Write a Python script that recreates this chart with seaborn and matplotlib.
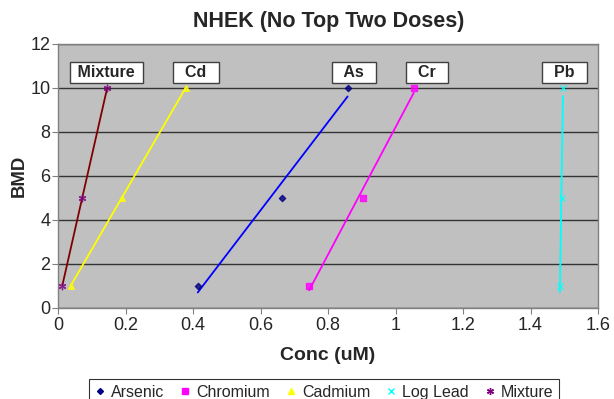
import matplotlib
matplotlib.use("Agg")
import matplotlib.pyplot as plt
import seaborn as sns
import pandas as pd
from matplotlib.lines import Line2D

# ---- data ----
bmd = [1, 5, 10]
conc_arsenic = [0.414, 0.663, 0.858]
conc_chromium = [0.744, 0.904, 1.054]
conc_cadmium = [0.0375, 0.189, 0.378]
conc_lead = [1.487, 1.492, 1.496]
conc_mixture = [0.013, 0.071, 0.146]

series_names = ["Arsenic", "Chromium", "Cadmium", "Log Lead", "Mixture"]
box_labels = ["As", "Cr", "Cd", "Pb", "Mixture"]
box_x = [0.877, 1.094, 0.409, 1.5, 0.143]

x_ticks = [0, 0.2, 0.4, 0.6, 0.8, 1, 1.2, 1.4, 1.6]
x_tick_labels = ["0", "0.2", "0.4", "0.6", "0.8", "1", "1.2", "1.4", "1.6"]
y_ticks = [0, 2, 4, 6, 8, 10, 12]

concs = [conc_arsenic, conc_chromium, conc_cadmium, conc_lead, conc_mixture]
rows = []
for name, c in zip(series_names, concs):
    for xv, yv in zip(c, bmd):
        rows.append({"series": name, "conc": xv, "bmd": yv})
df = pd.DataFrame(rows)

# ---- styles ----
marker_colors = ["#000080", "#ff00ff", "#ffff00", "#00ffff", "#800080"]
line_colors = ["#0000ff", "#ff00ff", "#ffff00", "#00ffff", "#800000"]
markers = ["D", "s", "^", "x", (6, 2, 0)]
msizes = [10, 14, 16, 18, 22]

sns.set_style("white")
plt.rcParams["font.family"] = ["Liberation Sans", "DejaVu Sans"]

fig = plt.figure(figsize=(6.14, 3.99), dpi=100)
ax = fig.add_axes([0.0945, 0.2288, 0.8795, 0.661])
ax.set_facecolor("#c0c0c0")

for name, mc, lc, mk, ms in zip(series_names, marker_colors, line_colors, markers, msizes):
    sub = df[df["series"] == name]
    sns.regplot(data=sub, x="conc", y="bmd", ax=ax, ci=None, truncate=True,
                marker=mk,
                scatter_kws={"color": mc, "s": ms, "linewidths": 1.0, "zorder": 4},
                line_kws={"color": lc, "linewidth": 1.3, "zorder": 3})

ax.set_xlim(0, 1.6)
ax.set_ylim(0, 12)
ax.set_xticks(x_ticks)
ax.set_xticklabels(x_tick_labels)
ax.set_yticks(y_ticks)
ax.yaxis.grid(True, color="#333333", linewidth=1.0)
ax.xaxis.grid(False)
ax.set_axisbelow(True)
for s in ax.spines.values():
    s.set_color("#808080")
    s.set_linewidth(1.0)
ax.tick_params(axis="x", direction="out", length=4, width=0.8, color="#808080",
               labelsize=13, pad=3, bottom=True)
ax.tick_params(axis="y", direction="out", length=4, width=0.8, color="#808080",
               labelsize=13, pad=1.5, left=True)

ax.set_xlabel("Conc (uM)", fontsize=14, fontweight="bold", labelpad=9)
ax.set_ylabel("BMD", fontsize=13.3, fontweight="bold", labelpad=2)
fig.suptitle("NHEK (No Top Two Doses)", fontsize=15.5, fontweight="bold", x=0.535, y=0.972)

for lab, bx in zip(box_labels, box_x):
    pad_txt = " " if len(lab) > 2 else "  "
    ax.text(bx, 10.7, pad_txt + lab + pad_txt, ha="center", va="center", fontsize=11.5,
            fontweight="bold",
            bbox=dict(boxstyle="square,pad=0.2", facecolor="white", edgecolor="#404040",
                      linewidth=1.0),
            zorder=6)

handles = [Line2D([], [], linestyle="none", marker=mk, color=mc, markersize=m,
                  markeredgewidth=1.0)
           for mk, mc, m in zip(markers, marker_colors, [3, 4, 4, 4.5, 5])]
leg = fig.legend(handles, series_names, loc="upper center", ncol=5,
                 bbox_to_anchor=(0.528, 0.05), frameon=True, fontsize=11.5,
                 handlelength=0.6, handletextpad=0.4, columnspacing=1.0,
                 borderpad=0.35, borderaxespad=0, fancybox=False)
leg.get_frame().set_edgecolor("black")
leg.get_frame().set_linewidth(0.8)

fig.savefig("out.png", dpi=100)
